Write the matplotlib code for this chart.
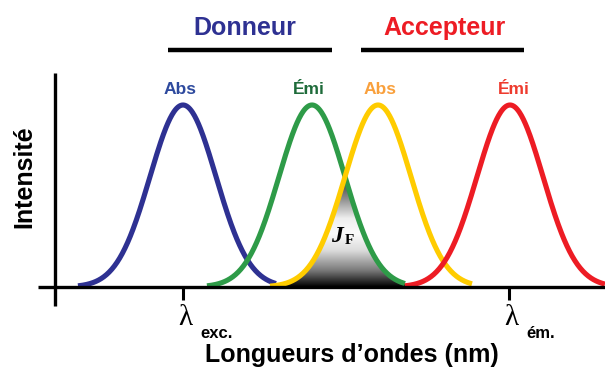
import numpy as np
import matplotlib
matplotlib.use("Agg")
import matplotlib.pyplot as plt
from matplotlib.colors import LinearSegmentedColormap

# ---- data ----
curve_names = ["Donneur Abs", "Donneur Émi", "Accepteur Abs", "Accepteur Émi"]
centers = [183, 312, 378, 510]          # peak positions (x units)
widths = [33, 33, 33, 33]               # gaussian sigma
peaks = [1.0, 1.0, 1.0, 1.0]            # relative intensity
left_span = [105, 105, 108, 105]
right_span = [93, 93, 94, 95]
curve_colors = ["#2E3192", "#2E9B48", "#FFCC00", "#ED1C24"]
label_texts = ["Abs", "Émi", "Abs", "Émi"]
label_colors = ["#2E4A9E", "#1E6B3A", "#F9A03C", "#EE3B2E"]
label_x = [180, 309, 380, 514]
group_names = ["Donneur", "Accepteur"]
group_colors = ["#2E3192", "#ED1C24"]
group_x = [245, 445]
group_bar = [(168, 332), (361, 524)]
lambda_ticks = [183, 509]
lambda_subs = ["exc.", "ém."]

W, H = 605, 367
BASE, SCALE = 287, 182

fig = plt.figure(figsize=(W / 100, H / 100), dpi=100)
ax = fig.add_axes([0, 0, 1, 1])
ax.set_xlim(0, W)
ax.set_ylim((BASE - H) / SCALE, BASE / SCALE)
ax.axis("off")


def py(p):
    """pixel row -> intensity coordinate"""
    return (BASE - p) / SCALE


def gauss(x, c, s, a):
    return a * np.exp(-(x - c) ** 2 / (2 * s ** 2))


# overlap fill (min of donor emission and acceptor absorption)
xo = np.linspace(centers[2] - left_span[2], centers[1] + right_span[1], 400)
yo = np.minimum(gauss(xo, centers[1], widths[1], peaks[1]),
                gauss(xo, centers[2], widths[2], peaks[2]))
poly = ax.fill_between(xo, 0, yo, color="none", lw=0, zorder=1)
cmap = LinearSegmentedColormap.from_list(
    "jf", [(0, "#000000"), (0.15, "#7a7a7a"), (0.33, "#dcdcdc"),
           (0.48, "#fbfbfb"), (0.62, "#eeeeee"), (0.8, "#8c8c8c"),
           (1, "#2a2a2a")])
grad = np.linspace(0, 1, 256).reshape(-1, 1)
img = ax.imshow(grad, cmap=cmap, aspect="auto", origin="lower",
                extent=[xo.min(), xo.max(), 0, yo.max()], zorder=1)
img.set_clip_path(poly.get_paths()[0], transform=ax.transData)

# curves
for c, s, a, l, r, col in zip(centers, widths, peaks, left_span, right_span, curve_colors):
    x = np.linspace(c - l, c + r, 300)
    ax.plot(x, gauss(x, c, s, a), color=col, lw=3.7, solid_capstyle="butt", zorder=3)

# axes lines
ax.plot([38, W], [0, 0], color="black", lw=2.4, zorder=4, solid_capstyle="butt")
ax.plot([55, 55], [py(73), py(306)], color="black", lw=2.4, zorder=4, solid_capstyle="butt")
for t in lambda_ticks:
    ax.plot([t, t], [0, py(300)], color="black", lw=2.2, zorder=4, solid_capstyle="butt")

# curve labels
for t, c, x in zip(label_texts, label_colors, label_x):
    ax.text(x, py(89), t, color=c, fontsize=12.5, fontweight="bold",
            family="Liberation Sans", ha="center", va="center")

# group titles
for t, c, x, (b0, b1) in zip(group_names, group_colors, group_x, group_bar):
    ax.text(x, py(28), t, color=c, fontsize=18, fontweight="bold",
            family="Liberation Sans", ha="center", va="center")
    ax.plot([b0, b1], [py(50), py(50)], color="black", lw=3.2, solid_capstyle="butt")

# lambda labels
for t, s in zip(lambda_ticks, lambda_subs):
    ax.text(t + 2, py(318), "λ", fontsize=21, family="Liberation Serif",
            ha="center", va="center")
    ax.text(t + 17, py(333), s, fontsize=12, fontweight="bold",
            family="Liberation Sans", ha="left", va="center")

# J_F label
ax.text(331, py(236), "J", fontsize=17, family="Liberation Serif",
        fontweight="bold", style="italic", ha="left", va="center", zorder=5)
ax.text(345, py(241), "F", fontsize=11, family="Liberation Serif",
        fontweight="bold", ha="left", va="center", zorder=5)

# axis titles
ax.text(352, py(355), "Longueurs d’ondes (nm)", fontsize=18, fontweight="bold",
        family="Liberation Sans", ha="center", va="center")
ax.text(24, py(177), "Intensité", fontsize=18, fontweight="bold",
        family="Liberation Sans", ha="center", va="center", rotation=90)

fig.savefig("out.png", dpi=100)
